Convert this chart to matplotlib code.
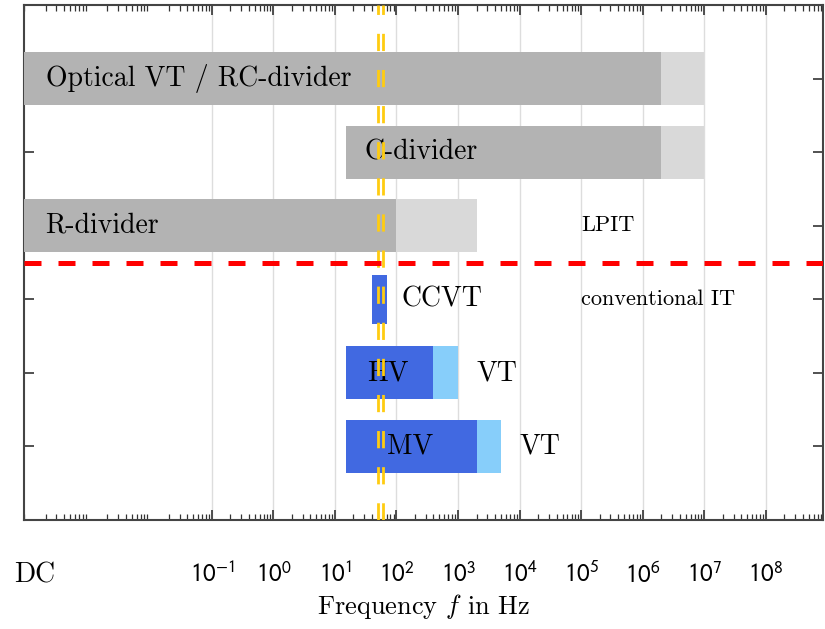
import matplotlib.pyplot as plt
import matplotlib.transforms as mtransforms
import numpy as np
from matplotlib.ticker import LogLocator, NullFormatter

plt.rcParams['mathtext.fontset'] = 'cm'
plt.rcParams['axes.formatter.use_mathtext'] = True

# frequency ranges of the transformers (Hz); DC bars start at the left border
x_lo, x_hi = 10**-4.05, 10**8.93
dc = x_lo
names = ['Optical VT / RC-divider', 'C-divider', 'R-divider', 'CCVT', 'HV', 'MV']
f_low = [dc, 15, dc, 40, 15, 15]
f_dark = [2e6, 2e6, 100, 70, 400, 2000]
f_light = [1e7, 1e7, 2000, 70, 1000, 5000]
lpit = [True, True, True, False, False, False]

# text positions (Hz) of the labels
name_x = [2e-4, 30, 2e-4, 120, 34, 70]
vt_x = {4: 2000, 5: 1e4}

grid_fund = [50, 60]
decades = list(range(-1, 9))

fig = plt.figure(figsize=(8.25, 6.29), dpi=100)
ax = fig.add_axes([24/825, 1 - 520/629, 799/825, 515/629])
ax.set_xscale('log')
ax.set_xlim(x_lo, x_hi)
ax.set_ylim(7, 0)

ypos = np.arange(1, len(names) + 1)
dark = ['#b3b3b3' if g else '#4169e1' for g in lpit]
light = ['#d9d9d9' if g else '#87cefa' for g in lpit]
for i, y in enumerate(ypos):
    h = 0.66 if names[i] == 'CCVT' else 0.72
    ax.barh(y, f_light[i] - f_low[i], left=f_low[i], height=h, color=light[i], zorder=2)
    ax.barh(y, f_dark[i] - f_low[i], left=f_low[i], height=h, color=dark[i], zorder=3)

big = dict(family='cmr10', fontsize=20, va='center', zorder=4)
for i, y in enumerate(ypos):
    ax.text(name_x[i], y, names[i], **big)
for i, x in vt_x.items():
    ax.text(x, ypos[i], 'VT', **big)
ax.text(1e5, 3, 'LPIT', family='cmr10', fontsize=16, va='center')
ax.text(1e5, 4, 'conventional IT', family='cmr10', fontsize=16, va='center')

# separation between LPIT and conventional IT
ax.axhline(3.5, color='#ff0000', lw=3.6, dashes=(3.4, 3.4), zorder=6)
for f in grid_fund:
    ax.axvline(f, color='#ffcc11', lw=2, dashes=(6.2, 6.8), zorder=5)

ax.set_xticks([10.0**d for d in decades])
ax.set_xticklabels([r'$10^{%d}$' % d for d in decades], fontsize=18)
for lbl in ax.get_xticklabels():
    lbl.set_math_fontfamily('stixsans')
ax.xaxis.set_minor_locator(LogLocator(base=10, subs=np.arange(2, 10), numticks=40))
ax.xaxis.set_minor_formatter(NullFormatter())
ax.set_yticks(ypos)
ax.set_yticklabels([])
ax.tick_params(which='both', direction='in', top=True, right=True, color='#333333')
ax.tick_params(which='major', length=7, width=1.2)
ax.tick_params(which='minor', length=4, width=0.9)
ax.tick_params(axis='x', pad=30)
ax.grid(True, axis='x', which='major', color='#dddddd', lw=1, zorder=0)
ax.set_axisbelow(True)
for s in ax.spines.values():
    s.set_color('#444444')
    s.set_linewidth(1.5)

trans = mtransforms.blended_transform_factory(ax.transData, ax.transAxes)
ax.text(10**-3.87, -0.107, 'DC', transform=trans, family='cmr10', fontsize=20,
        ha='center', va='center')
ax.set_xlabel('Frequency $f$ in Hz', family='cmr10', fontsize=19, labelpad=3)

fig.savefig('out.png', dpi=100)
